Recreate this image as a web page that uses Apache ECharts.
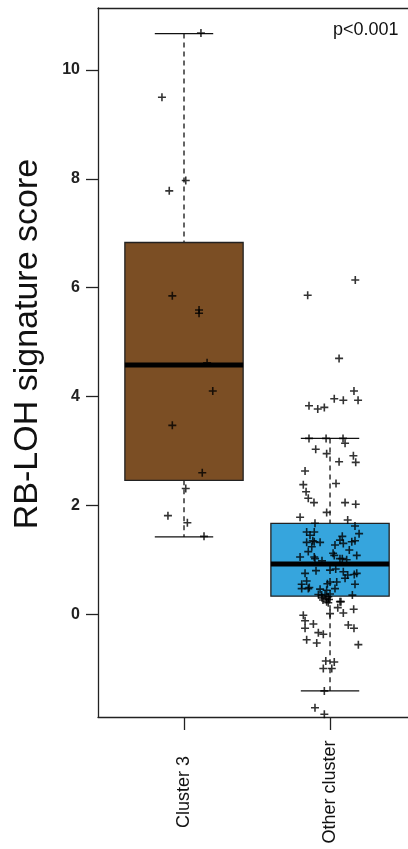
<!DOCTYPE html>
<html>
<head>
<meta charset="utf-8">
<script src="https://cdn.jsdelivr.net/npm/echarts@6/dist/echarts.min.js"></script>
<style>
  html, body { margin: 0; padding: 0; background: #fff; }
  #chart { width: 408px; height: 849px; }
</style>
</head>
<body>
<div id="chart"></div>
<script>
// group names and box statistics: [lower whisker, Q1, median, Q3, upper whisker]
const categories = ['Cluster 3', 'Other cluster']
const boxStats = [
  [1.42, 2.46, 4.58, 6.83, 10.67],
  [-1.41, 0.33, 0.92, 1.67, 3.23]
]
const boxColors = ['#7B4E24', '#36A5DD']
const yTicks = [0, 2, 4, 6, 8, 10]

// jittered points [x, score]
const cluster3Points = [
  [1.116, 10.68], [0.849, 9.50], [1.012, 7.97], [0.899, 7.78], [0.920, 5.85],
  [1.103, 5.59], [1.103, 5.53], [1.158, 4.62], [1.197, 4.10], [0.920, 3.47],
  [1.125, 2.60], [1.012, 2.31], [0.890, 1.81], [1.023, 1.68], [1.137, 1.43]
]
const otherPoints = [
  [2.173, 6.14], [1.847, 5.86], [2.062, 4.70], [2.164, 4.10], [2.029, 3.96],
  [2.091, 3.93], [2.192, 3.93], [1.856, 3.83], [1.916, 3.77], [1.961, 3.80],
  [1.856, 3.23], [1.973, 3.23], [2.089, 3.23], [2.103, 3.14], [1.902, 3.03],
  [1.977, 2.95], [2.160, 2.91], [2.176, 2.79], [2.062, 2.80], [1.829, 2.63],
  [2.041, 2.40], [1.817, 2.38], [1.836, 2.25], [1.851, 2.13], [1.890, 2.05],
  [2.103, 2.05], [2.176, 2.02], [1.977, 1.87], [1.795, 1.78], [2.121, 1.73],
  [1.897, 1.67], [2.171, 1.62], [2.199, 1.48], [1.840, 1.51], [1.892, 1.51],
  [1.863, 1.45], [2.084, 1.43], [1.840, 1.32], [1.892, 1.33], [1.932, 1.32],
  [2.034, 1.27], [2.091, 1.30], [2.149, 1.33], [2.171, 1.35], [1.875, 1.24],
  [2.132, 1.18], [1.851, 1.15], [1.795, 1.05], [1.892, 1.05], [2.029, 1.08],
  [2.084, 1.02], [2.183, 1.08], [2.114, 1.00], [1.945, 0.98], [1.829, 0.75],
  [2.000, 0.81], [2.039, 0.83], [2.091, 0.78], [2.121, 0.72], [2.166, 0.73],
  [2.183, 0.75], [1.840, 0.61], [1.806, 0.55], [1.806, 0.47], [1.851, 0.47],
  [2.000, 0.59], [2.046, 0.59], [2.103, 0.66], [2.171, 0.55], [1.932, 0.46],
  [1.977, 0.44], [2.034, 0.47], [1.920, 0.36], [1.943, 0.35], [1.966, 0.36],
  [1.988, 0.32], [1.977, 0.28], [2.153, 0.35], [2.068, 0.23], [1.977, 0.23],
  [1.988, 0.21], [2.075, 0.23], [2.053, 0.12], [2.091, 0.02], [2.162, 0.09],
  [2.000, 0.01], [1.817, -0.02], [1.829, -0.12], [1.886, -0.18], [2.125, -0.20],
  [2.164, -0.26], [1.829, -0.26], [1.920, -0.34], [1.954, -0.37], [1.840, -0.47],
  [1.909, -0.53], [2.194, -0.56], [1.971, -0.86], [2.029, -0.88], [1.954, -1.00],
  [2.012, -1.00], [1.961, -1.41], [1.897, -1.72], [1.961, -1.84], [1.945, 0.30],
  [2.000, 0.37], [1.882, 1.35], [2.068, 1.36], [2.021, 1.12], [1.858, 0.49],
  [1.982, 0.56], [1.897, 1.02], [2.068, 1.02], [1.904, 0.80], [1.952, 0.26],
  [1.993, 0.27]
]

const chart = echarts.init(document.getElementById('chart'))

const boxData = boxStats.map((s, i) => [i + 1, ...s])
const fontFamily = 'Liberation Sans, Arial, sans-serif'

const renderBox = (params, api) => {
  const x = api.value(0)
  const lo = api.value(1), q1 = api.value(2), med = api.value(3), q3 = api.value(4), hi = api.value(5)
  const half = 0.405, cap = 0.2
  const line = { stroke: '#111', lineWidth: 1.3 }
  const a = api.coord([x - half, q3])
  const b = api.coord([x + half, q1])
  const m1 = api.coord([x - half, med])
  const m2 = api.coord([x + half, med])
  const top = api.coord([x, hi])
  const bot = api.coord([x, lo])
  const c3 = api.coord([x, q3])
  const c1 = api.coord([x, q1])
  const capL = api.coord([x - cap, hi])[0]
  const capR = api.coord([x + cap, hi])[0]
  return {
    type: 'group',
    children: [
      { type: 'line', shape: { x1: top[0], y1: top[1], x2: c3[0], y2: c3[1] }, style: { ...line, lineDash: [5, 4] } },
      { type: 'line', shape: { x1: c1[0], y1: c1[1], x2: bot[0], y2: bot[1] }, style: { ...line, lineDash: [5, 4] } },
      { type: 'line', shape: { x1: capL, y1: top[1], x2: capR, y2: top[1] }, style: line },
      { type: 'line', shape: { x1: capL, y1: bot[1], x2: capR, y2: bot[1] }, style: line },
      { type: 'rect', shape: { x: a[0], y: a[1], width: b[0] - a[0], height: b[1] - a[1] },
        style: { fill: boxColors[params.dataIndex], stroke: '#222', lineWidth: 1.3 } },
      { type: 'line', shape: { x1: m1[0], y1: m1[1], x2: m2[0], y2: m2[1] }, style: { stroke: '#000', lineWidth: 5 } }
    ]
  }
}

const plusSymbol = 'path://M-1,-5H1V-1H5V1H1V5H-1V1H-5V-1H-1Z'

chart.setOption({
  animation: false,
  grid: { left: 98, top: 8, right: 0, bottom: 132 },
  xAxis: [{
    type: 'value',
    min: 0.411,
    max: 2.534,
    splitLine: { show: false },
    axisLine: { show: true, onZero: false, lineStyle: { color: '#222', width: 1.3 } },
    axisTick: { show: true, length: 13, customValues: [1, 2], lineStyle: { color: '#222', width: 1.3 } },
    axisLabel: {
      customValues: [1, 2],
      formatter: v => categories[Math.round(v) - 1] || '',
      rotate: 90,
      align: 'center',
      margin: 75,
      color: '#111',
      fontSize: 18,
      fontFamily
    }
  }, {
    type: 'value',
    position: 'top',
    min: 0.411,
    max: 2.534,
    splitLine: { show: false },
    axisLine: { show: true, onZero: false, lineStyle: { color: '#222', width: 1.3 } },
    axisTick: { show: false },
    axisLabel: { show: false }
  }],
  yAxis: {
    type: 'value',
    min: -1.89,
    max: 11.14,
    splitLine: { show: false },
    axisLine: { show: true, onZero: false, lineStyle: { color: '#222', width: 1.3 } },
    axisTick: { show: true, length: 12, customValues: yTicks, lineStyle: { color: '#222', width: 1.3 } },
    axisLabel: {
      customValues: yTicks,
      margin: 18,
      fontSize: 16,
      fontWeight: 'bold',
      color: '#222',
      fontFamily
    }
  },
  graphic: [{
    type: 'text',
    left: 333,
    top: 21,
    style: { text: 'p<0.001', fontSize: 18, fill: '#111', fontFamily }
  }, {
    type: 'text',
    x: 28,
    y: 344,
    rotation: Math.PI / 2,
    style: {
      text: 'RB-LOH signature score',
      fontSize: 34,
      fill: '#111',
      fontFamily,
      align: 'center',
      verticalAlign: 'middle'
    }
  }],
  series: [
    {
      type: 'custom',
      renderItem: renderBox,
      encode: { x: 0, y: [1, 2, 3, 4, 5] },
      data: boxData,
      z: 2
    },
    {
      type: 'scatter',
      symbol: plusSymbol,
      symbolSize: 8,
      itemStyle: { color: '#000' },
      data: cluster3Points.concat(otherPoints),
      z: 3
    }
  ]
})
</script>
</body>
</html>
